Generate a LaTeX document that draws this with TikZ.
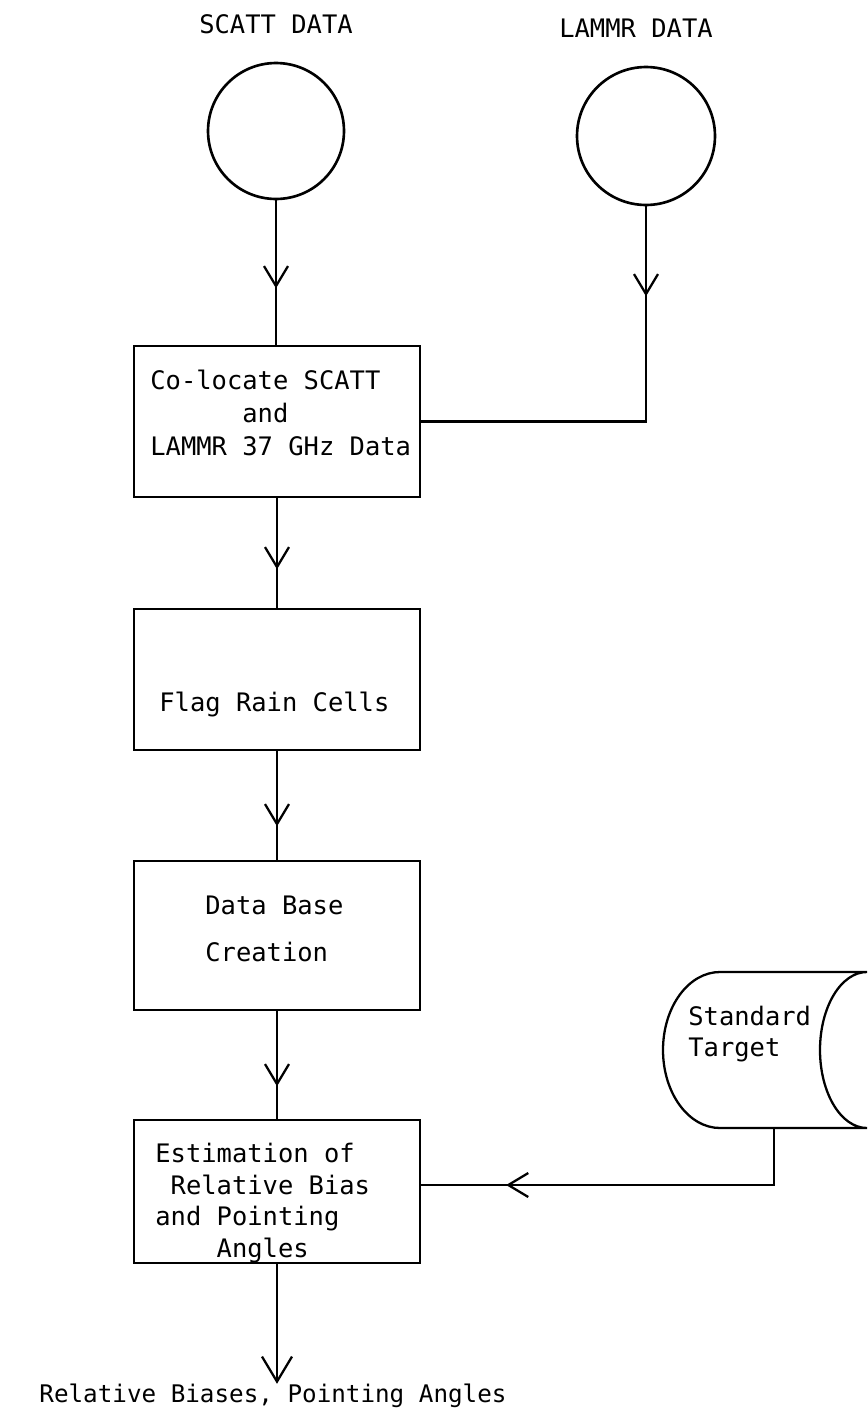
\documentclass[tikz,border=0pt]{standalone}
\usepackage{fontspec}
\setmainfont{DejaVu Sans Mono}
\usetikzlibrary{arrows.meta,decorations.markings}
\tikzset{
  box/.style={draw, line width=1.5pt, minimum width=5.72cm, inner sep=0pt},
  flow/.style={line width=1.3pt},
  vtip/.style={postaction={decorate}, decoration={markings,
    mark=at position #1 with {\arrow{Straight Barb[length=0.4cm,width=0.48cm]}}}},
  txt/.style={font=\fontsize{14.5}{18.8}\selectfont, inner sep=0pt, align=left, anchor=west},
}
\begin{document}
\begin{tikzpicture}[x=0.02cm, y=0.02cm]
\useasboundingbox (0,0) rectangle (867,-1420);
% input data
\node[txt, anchor=center] (scattlbl) at (276,-24) {SCATT DATA};
\node[txt, anchor=center] (lammrlbl) at (636,-28) {LAMMR DATA};
\node[draw, circle, line width=1.5pt, minimum size=2.72cm] (scatt) at (276,-131) {};
\node[draw, circle, line width=1.5pt, minimum size=2.76cm] (lammr) at (646,-136) {};
% processing boxes
\node[box, minimum height=3.02cm] (coloc) at (277,-421.5) {};
\node[box, minimum height=2.82cm] (flag) at (277,-679.5) {};
\node[box, minimum height=2.98cm] (base) at (277,-935.5) {};
\node[box, minimum height=2.86cm] (estim) at (277,-1191.5) {};
\node[txt] (coloctxt) at (150,-413) {Co-locate SCATT\\\hphantom{Co-loc}and\\LAMMR 37 GHz Data};
\node[txt] (flagtxt) at (159,-704) {Flag Rain Cells};
\node[txt, font=\fontsize{14.5}{26.7}\selectfont] (basetxt) at (205,-929) {Data Base\\Creation};
\node[txt, font=\fontsize{14.5}{18}\selectfont] (estimtxt) at (155,-1203)
  {Estimation of\\\hphantom{x}Relative Bias\\and Pointing\\\hphantom{xxxx}Angles};
% stored target file
\draw[flow] (867,-972) -- (720,-972) arc[start angle=90, end angle=270, x radius=57, y radius=78]
  -- (867,-1128) arc[start angle=270, end angle=90, x radius=47, y radius=78];
\node[txt, font=\fontsize{14.5}{17.6}\selectfont] (target) at (688,-1034) {Standard\\Target};
\coordinate (drumfoot) at (774,-1128);
% flow lines
\draw[flow, vtip=1.76cm] (scatt) -- (coloc.north -| scatt);
\draw[flow, vtip=1.8cm] (lammr) |- (coloc.east);
\draw[flow, vtip=1.42cm] (coloc) -- (flag);
\draw[flow, vtip=1.5cm] (flag) -- (base);
\draw[flow, vtip=1.5cm] (base) -- (estim);
\draw[flow, vtip=6.5cm] (drumfoot) |- ([yshift=0.13cm]estim.east);
\node[txt, anchor=center, font=\fontsize{13.8}{16}\selectfont] (result) at (273,-1396) {Relative Biases, Pointing Angles};
\draw[flow, -{Straight Barb[length=0.5cm,width=0.6cm]}] (estim) -- (result.north -| estim);
%\node at (330,-1000) {.};
\end{tikzpicture}
\end{document}
